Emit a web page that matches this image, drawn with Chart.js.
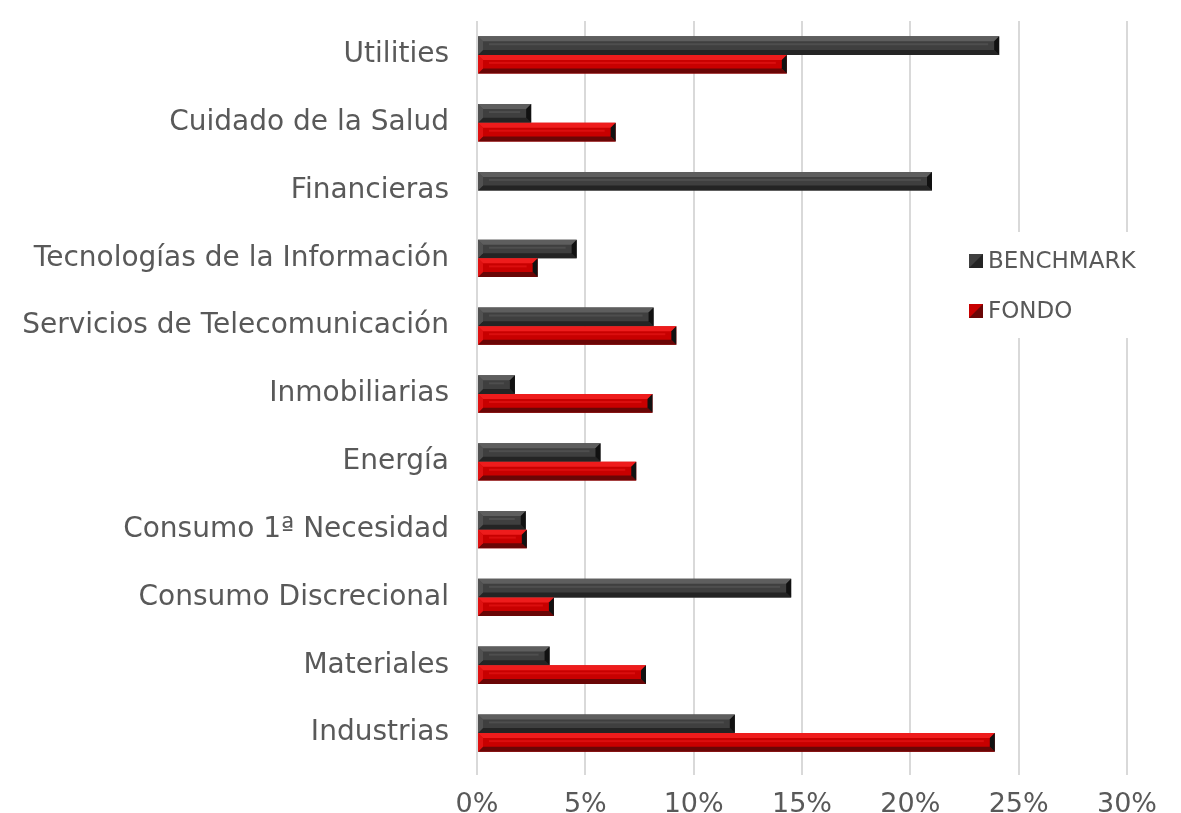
<!DOCTYPE html>
<html>
<head>
<meta charset="utf-8">
<script src="https://cdn.jsdelivr.net/npm/chart.js@4/dist/chart.umd.min.js"></script>
<style>
  html, body { margin: 0; padding: 0; background: #fff; }
  #wrap { width: 1181px; height: 813px; position: relative; }
</style>
</head>
<body>
<div id="wrap"><canvas id="sectorChart" width="1181" height="813"></canvas></div>
<script>
// sectores (de arriba a abajo)
const sectores = [
  "Utilities",
  "Cuidado de la Salud",
  "Financieras",
  "Tecnologías de la Información",
  "Servicios de Telecomunicación",
  "Inmobiliarias",
  "Energía",
  "Consumo 1ª Necesidad",
  "Consumo Discrecional",
  "Materiales",
  "Industrias"
];
// pesos en %
const benchmark = [24.1, 2.5, 21.0, 4.6, 8.15, 1.75, 5.7, 2.25, 14.5, 3.35, 11.9];
const fondo     = [14.3, 6.4, 0,    2.8, 9.2,  8.1,  7.35, 2.3, 3.55, 7.8, 23.9];
const ejeTicks  = [0, 5, 10, 15, 20, 25, 30];

const textColor = "#595959";
const fuente = "'DejaVu Sans', Verdana, sans-serif";

// colores bisel: [base, claro, oscuro]
const bevel = {
  BENCHMARK: ["#3f3f3f", "#5e5e5e", "#242424"],
  FONDO: ["#c80000", "#ee1c1c", "#6a0606"]
};

// efecto bisel encima de cada barra
const bevelPlugin = {
  id: "bevelBars",
  afterDatasetsDraw(chart) {
    const ctx = chart.ctx;
    chart.data.datasets.forEach((ds, i) => {
      const cols = bevel[ds.label];
      chart.getDatasetMeta(i).data.forEach(bar => {
        const x0 = bar.base, x1 = bar.x;
        const h = bar.height;
        const y0 = bar.y - h / 2, y1 = bar.y + h / 2;
        if (x1 - x0 < 1) return;
        const b = Math.min(5, (x1 - x0) / 2);
        ctx.save();
        // arriba
        ctx.fillStyle = cols[1];
        ctx.beginPath();
        ctx.moveTo(x0, y0); ctx.lineTo(x1, y0); ctx.lineTo(x1 - b, y0 + b); ctx.lineTo(x0 + b, y0 + b);
        ctx.closePath(); ctx.fill();
        // franja clara central
        ctx.globalAlpha = 0.5;
        ctx.fillRect(x0 + b + 6, y0 + b + 2, Math.max(0, x1 - x0 - 2 * b - 12), 2);
        ctx.globalAlpha = 1;
        // abajo
        ctx.fillStyle = cols[2];
        ctx.beginPath();
        ctx.moveTo(x0, y1); ctx.lineTo(x1, y1); ctx.lineTo(x1 - b, y1 - b); ctx.lineTo(x0 + b, y1 - b);
        ctx.closePath(); ctx.fill();
        // extremo derecho
        ctx.fillStyle = "#111";
        ctx.beginPath();
        ctx.moveTo(x1, y0); ctx.lineTo(x1, y1); ctx.lineTo(x1 - b, y1 - b); ctx.lineTo(x1 - b, y0 + b);
        ctx.closePath(); ctx.fill();
        // extremo izquierdo
        ctx.fillStyle = cols[1];
        ctx.globalAlpha = 0.6;
        ctx.beginPath();
        ctx.moveTo(x0, y0); ctx.lineTo(x0, y1); ctx.lineTo(x0 + b, y1 - b); ctx.lineTo(x0 + b, y0 + b);
        ctx.closePath(); ctx.fill();
        ctx.restore();
      });
    });
  },
  afterDraw(chart) {
    // leyenda dentro del grafico
    const ctx = chart.ctx;
    ctx.save();
    ctx.fillStyle = "#fff";
    ctx.fillRect(952, 232, 215, 106);
    ctx.font = "23px " + fuente;
    ctx.textBaseline = "middle";
    chart.data.datasets.forEach((ds, i) => {
      const cols = bevel[ds.label];
      const y = 261 + i * 50;
      const x = 969;
      ctx.fillStyle = cols[0];
      ctx.fillRect(x, y - 7, 14, 14);
      ctx.fillStyle = cols[2];
      ctx.beginPath();
      ctx.moveTo(x + 14, y - 7); ctx.lineTo(x + 14, y + 7); ctx.lineTo(x, y + 7); ctx.lineTo(x + 7, y);
      ctx.closePath(); ctx.fill();
      ctx.fillStyle = textColor;
      ctx.fillText(ds.label, x + 19, y + 1);
    });
    ctx.restore();
  }
};

new Chart(document.getElementById("sectorChart"), {
  type: "bar",
  data: {
    labels: sectores,
    datasets: [
      { label: "BENCHMARK", data: benchmark, backgroundColor: bevel.BENCHMARK[0] },
      { label: "FONDO", data: fondo, backgroundColor: bevel.FONDO[0] }
    ]
  },
  options: {
    indexAxis: "y",
    responsive: false,
    animation: false,
    devicePixelRatio: 1,
    maintainAspectRatio: false,
    layout: { padding: { top: 21, right: 54, bottom: 0, left: 0 } },
    datasets: { bar: { categoryPercentage: 0.55, barPercentage: 1.0 } },
    scales: {
      x: {
        min: 0,
        max: 30,
        afterBuildTicks: axis => { axis.ticks = ejeTicks.map(v => ({ value: v })); },
        ticks: {
          color: textColor,
          font: { family: fuente, size: 27 },
          padding: 14,
          callback: v => v + "%"
        },
        grid: { color: "#d9d9d9", lineWidth: 2, tickLength: 8, drawTicks: true },
        border: { display: false },
        afterFit: axis => { axis.height = 46; }
      },
      y: {
        ticks: {
          color: textColor,
          font: { family: fuente, size: 28 },
          padding: 20,
          autoSkip: false
        },
        grid: { display: false },
        border: { display: false },
        afterFit: axis => {
          axis.width = 477;
          axis.paddingTop = 0;
          axis.paddingBottom = 0;
        }
      }
    },
    plugins: {
      legend: { display: false },
      tooltip: { enabled: false }
    }
  },
  plugins: [bevelPlugin]
});
</script>
</body>
</html>
